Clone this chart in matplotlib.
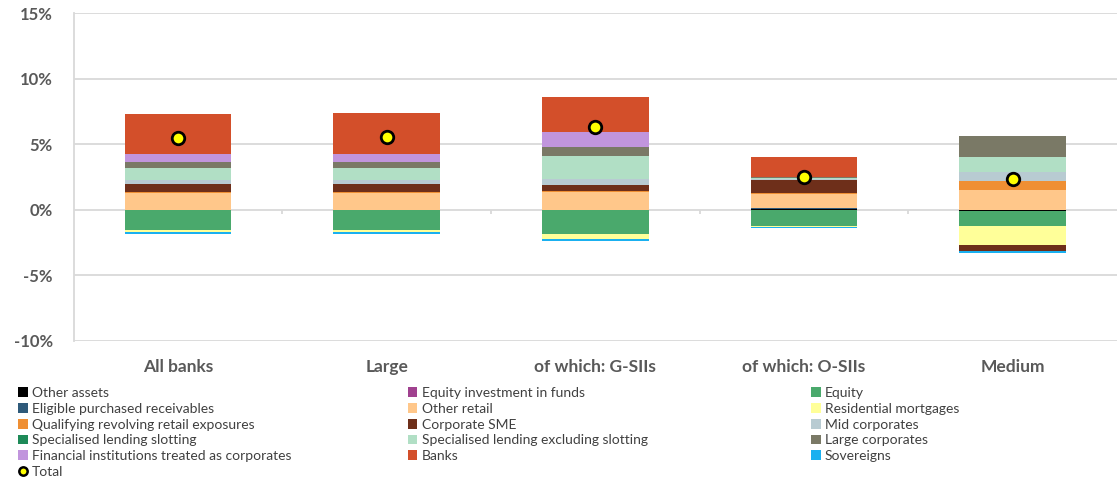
"""Stacked contribution chart of risk weight changes by exposure class."""

import matplotlib
matplotlib.use("Agg")
import matplotlib.pyplot as plt
from matplotlib.patches import Patch
from matplotlib.lines import Line2D
import numpy as np

plt.rcParams["font.family"] = ["Lato", "DejaVu Sans"]

categories = ["All banks", "Large", "of which: G-SIIs", "of which: O-SIIs", "Medium"]

# Contributions in percentage points, in Excel series order.
other_assets = [-0.03, -0.03, -0.03, 0.03, -0.08]
equity_funds = [0.0, 0.0, 0.0, 0.0, 0.0]
equity = [-1.50, -1.50, -1.80, -1.25, -1.18]
eligible_receivables = [0.0, 0.0, 0.0, 0.08, 0.0]
other_retail = [1.25, 1.27, 1.38, 1.10, 1.53]
residential_mortgages = [-0.20, -0.20, -0.43, -0.05, -1.45]
qrre = [0.07, 0.07, 0.05, 0.03, 0.69]
corporate_sme = [0.63, 0.63, 0.43, 1.00, -0.43]
mid_corporates = [0.30, 0.30, 0.49, 0.12, 0.64]
sl_slotting = [0.0, 0.0, 0.0, 0.0, 0.0]
sl_excl_slotting = [0.90, 0.92, 1.73, 0.05, 1.15]
large_corporates = [0.46, 0.46, 0.69, 0.05, 1.58]
fin_institutions = [0.60, 0.60, 1.15, 0.03, 0.0]
banks = [3.05, 3.10, 2.70, 1.50, 0.0]
sovereigns = [-0.15, -0.15, -0.13, -0.12, -0.15]
total = [5.45, 5.55, 6.28, 2.50, 2.37]

series = [
    ("Other assets", other_assets, "#000000"),
    ("Equity investment in funds", equity_funds, "#a0418f"),
    ("Equity", equity, "#4aa96c"),
    ("Eligible purchased receivables", eligible_receivables, "#2e5a7a"),
    ("Other retail", other_retail, "#ffc78a"),
    ("Residential mortgages", residential_mortgages, "#ffff99"),
    ("Qualifying revolving retail exposures", qrre, "#ef8f33"),
    ("Corporate SME", corporate_sme, "#6e2f1a"),
    ("Mid corporates", mid_corporates, "#b8cbd2"),
    ("Specialised lending slotting", sl_slotting, "#1e8a58"),
    ("Specialised lending excluding slotting", sl_excl_slotting, "#b1dfc5"),
    ("Large corporates", large_corporates, "#7a7966"),
    ("Financial institutions treated as corporates", fin_institutions, "#c195dd"),
    ("Banks", banks, "#d34f2a"),
    ("Sovereigns", sovereigns, "#1ab0f0"),
]

GRID = "#d9d9d9"
TEXT = "#595959"

fig = plt.figure(figsize=(11.17, 4.82), dpi=100)
ax = fig.add_axes([0.066, 0.293, 0.934, 0.68])

x = np.arange(len(categories))
pos_bottom = np.zeros(len(categories))
neg_bottom = np.zeros(len(categories))
colors = {}
for name, vals, color in series:
    vals = np.array(vals)
    colors[name] = color
    bottom = np.where(vals >= 0, pos_bottom, neg_bottom)
    ax.bar(x, vals, width=0.51, bottom=bottom, color=color, linewidth=0, zorder=3)
    pos_bottom += np.clip(vals, 0, None)
    neg_bottom += np.clip(vals, None, 0)

ax.plot(x, total, linestyle="none", marker="o", markersize=9,
        markerfacecolor="#ffff00", markeredgecolor="black", markeredgewidth=2, zorder=5)

ax.set_xlim(-0.5, len(categories) - 0.5)
ax.set_ylim(-10, 15)
ax.set_yticks([-10, -5, 0, 5, 10, 15])
ax.set_yticklabels([f"{v}%" for v in [-10, -5, 0, 5, 10, 15]],
                   fontsize=12, fontweight="bold", color=TEXT)
ax.set_xticks(x)
ax.set_xticklabels(categories, fontsize=12.5, fontweight="bold", color=TEXT)
ax.tick_params(axis="both", length=0)
ax.tick_params(axis="x", pad=13)
ax.tick_params(axis="y", pad=15)
ax.yaxis.grid(True, color=GRID, linewidth=1.3, zorder=0)
for side in ["top", "right", "bottom"]:
    ax.spines[side].set_visible(False)
ax.spines["left"].set_color(GRID)
ax.spines["left"].set_linewidth(1.3)

# Category separator ticks on the zero line.
ax.vlines(x[:-1] + 0.5, -0.35, 0, color=GRID, linewidth=1.3, zorder=2)

# Legend in three columns, filled row by row like the source.
names = [s[0] for s in series] + ["Total"]

def handle(name):
    if name == "Total":
        return Line2D([], [], linestyle="none", marker="o", markersize=6,
                      markerfacecolor="#ffff00", markeredgecolor="black", markeredgewidth=1.8)
    return Patch(facecolor=colors[name])

col_x = [0.016, 0.365, 0.726]
for c in range(3):
    col_names = names[c::3]
    leg = fig.legend([handle(n) for n in col_names], col_names,
                     loc="upper left", bbox_to_anchor=(col_x[c], 0.197),
                     frameon=False, fontsize=10, labelspacing=0.27,
                     handlelength=0.7, handleheight=0.7, handletextpad=0.3,
                     borderaxespad=0, borderpad=0)
    for t in leg.get_texts():
        t.set_color("#404040")

fig.savefig("out.png", dpi=100)
